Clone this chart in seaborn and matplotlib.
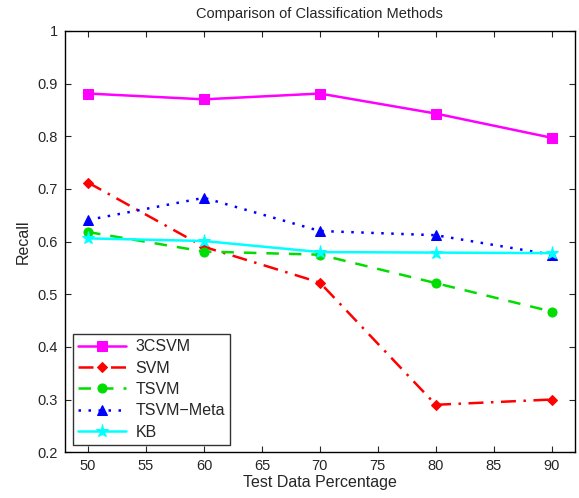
import matplotlib
matplotlib.use("Agg")
import matplotlib.pyplot as plt
import seaborn as sns
import pandas as pd

# test data percentage
pct = [50, 60, 70, 80, 90]

recall_3csvm = [0.881, 0.870, 0.881, 0.843, 0.797]
recall_svm = [0.712, 0.590, 0.522, 0.290, 0.300]
recall_tsvm = [0.618, 0.581, 0.575, 0.521, 0.467]
recall_meta = [0.641, 0.683, 0.620, 0.612, 0.575]
recall_kb = [0.606, 0.601, 0.580, 0.579, 0.578]

methods = ['3CSVM', 'SVM', 'TSVM', 'TSVM\u2212Meta', 'KB']
colors = ['#ff00ff', '#ff0000', '#00dd00', '#0000ff', '#00ffff']
styles = ['-', (0, (6, 3, 1, 3)), (0, (5, 4)), (0, (1, 3)), '-']
marks = ['s', 'D', 'o', '^', '*']
msizes = [6.5, 5.5, 6.5, 7, 9.5]

sns.set_style("ticks")
plt.rcParams['font.family'] = ['Liberation Sans', 'DejaVu Sans']

df = pd.DataFrame({'pct': pct, '3CSVM': recall_3csvm, 'SVM': recall_svm,
                   'TSVM': recall_tsvm, 'TSVM\u2212Meta': recall_meta, 'KB': recall_kb})

fig = plt.figure(figsize=(5.79, 4.98), dpi=100)
ax = fig.add_axes([0.112, 0.092, 0.881, 0.846])

for m, c, ls, mk, ms in zip(methods, colors, styles, marks, msizes):
    sns.lineplot(data=df, x='pct', y=m, ax=ax, color=c, linestyle=ls, marker=mk,
                 markersize=ms, markeredgecolor=c, linewidth=1.8, label=m)

ax.set_xlim(48, 92)
ax.set_ylim(0.2, 1.0)
ax.set_xticks(range(50, 91, 5))
ax.set_yticks([0.2, 0.3, 0.4, 0.5, 0.6, 0.7, 0.8, 0.9, 1.0])
ax.set_yticklabels(['0.2', '0.3', '0.4', '0.5', '0.6', '0.7', '0.8', '0.9', '1'])
ax.tick_params(direction='in', top=True, right=True, labelsize=10.5, length=4, pad=5)
for s in ax.spines.values():
    s.set_linewidth(1.0)
    s.set_color('black')

ax.set_xlabel('Test Data Percentage', fontsize=11.5, labelpad=1)
ax.set_ylabel('Recall', fontsize=11.5, labelpad=5)
ax.set_title('Comparison of Classification Methods', fontsize=10.5, pad=9)

leg = ax.legend(loc='lower left', bbox_to_anchor=(0.016, 0.018), borderaxespad=0,
                fontsize=11.5, frameon=True, fancybox=False, handlelength=3.0,
                borderpad=0.3, labelspacing=0.4, handletextpad=0.6, numpoints=1)
leg.get_frame().set_edgecolor('black')
leg.get_frame().set_linewidth(1.0)

fig.savefig('out.png', dpi=100)
